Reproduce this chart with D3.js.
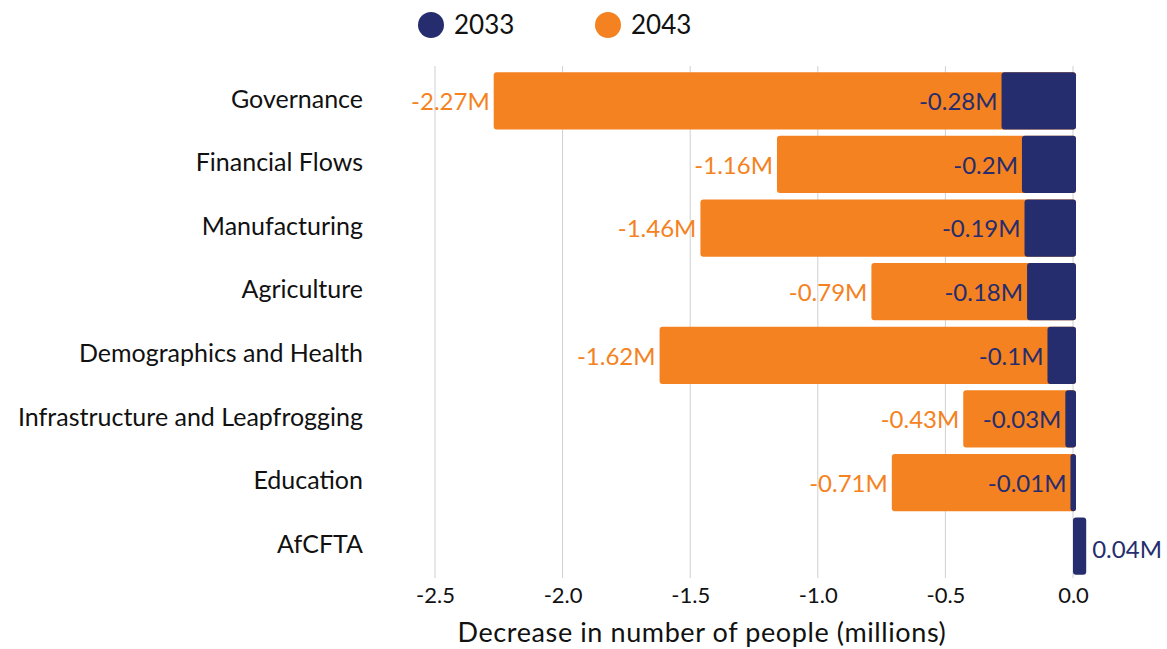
<!DOCTYPE html>
<html>
<head>
<meta charset="utf-8">
<script src="https://cdn.jsdelivr.net/npm/d3@7"></script>
<style>
  body { margin: 0; background: #fff; }
  svg text { font-family: Lato, "Open Sans", sans-serif; }
</style>
</head>
<body>
<svg id="chart" width="1167" height="649"></svg>
<script>
var categories = ["Governance", "Financial Flows", "Manufacturing", "Agriculture",
  "Demographics and Health", "Infrastructure and Leapfrogging", "Education", "AfCFTA"];
var values2033 = [-0.28, -0.2, -0.19, -0.18, -0.1, -0.03, -0.01, 0.04];
var values2043 = [-2.27, -1.16, -1.46, -0.79, -1.62, -0.43, -0.71, null];
var xTicks = [-2.5, -2.0, -1.5, -1.0, -0.5, 0.0];
var seriesNames = ["2033", "2043"];

var navy = "#262d6e";
var orange = "#f58220";

var svg = d3.select("#chart");

var x = d3.scaleLinear().domain([-2.5, 0]).range([435, 1073]);
var y = d3.scaleBand().domain(categories).range([69, 578]).paddingInner(0.1).paddingOuter(0.05);

// gridlines
svg.append("g").selectAll("line").data(xTicks).enter().append("line")
  .attr("x1", d => x(d)).attr("x2", d => x(d))
  .attr("y1", 66).attr("y2", 578)
  .attr("stroke", "#d0d0d0").attr("stroke-width", 1);

// category labels
svg.append("g").selectAll("text").data(categories).enter().append("text")
  .attr("x", 363)
  .attr("y", d => y(d) + y.bandwidth() / 2 - 2)
  .attr("dy", "0.35em")
  .attr("text-anchor", "end")
  .attr("font-size", 25)
  .attr("fill", "#111")
  .text(d => d);

var rows = categories.map(function (c, i) {
  return { cat: c, v33: values2033[i], v43: values2043[i] };
});

// 2043 bars
svg.append("g").selectAll("rect").data(rows.filter(d => d.v43 != null)).enter().append("rect")
  .attr("x", d => x(d.v43))
  .attr("y", d => y(d.cat))
  .attr("width", d => x(0) - x(d.v43) + 3)
  .attr("height", y.bandwidth())
  .attr("rx", 3)
  .attr("fill", orange);

// 2033 bars
svg.append("g").selectAll("rect").data(rows).enter().append("rect")
  .attr("x", d => Math.min(x(d.v33), x(0)) )
  .attr("y", d => y(d.cat))
  .attr("width", d => Math.abs(x(d.v33) - x(0)) + 3)
  .attr("height", y.bandwidth())
  .attr("rx", 3)
  .attr("fill", navy);

// 2043 labels
svg.append("g").selectAll("text").data(rows.filter(d => d.v43 != null)).enter().append("text")
  .attr("x", d => x(d.v43) - 4)
  .attr("y", d => y(d.cat) + y.bandwidth() / 2 + 1)
  .attr("dy", "0.35em")
  .attr("text-anchor", "end")
  .attr("font-size", 24)
  .attr("fill", orange)
  .text(d => d.v43 + "M");

// 2033 labels
svg.append("g").selectAll("text").data(rows).enter().append("text")
  .attr("x", d => d.v33 < 0 ? x(d.v33) - 4 : x(d.v33) + 9)
  .attr("y", d => y(d.cat) + y.bandwidth() / 2 + (d.v33 < 0 ? 1 : 3))
  .attr("dy", "0.35em")
  .attr("text-anchor", d => d.v33 < 0 ? "end" : "start")
  .attr("font-size", 24)
  .attr("fill", navy)
  .text(d => d.v33 + "M");

// x axis
var xAxis = d3.axisBottom(x).tickValues(xTicks)
  .tickFormat(d => d3.format(".1f")(d).replace("\u2212", "-"))
  .tickSize(0).tickPadding(7);
var gx = svg.append("g").attr("transform", "translate(0,580)").call(xAxis);
gx.select(".domain").remove();
gx.selectAll("text").attr("font-size", 22).attr("fill", "#111")
  .style("font-family", "Lato, 'Open Sans', sans-serif");

svg.append("text")
  .attr("x", 702).attr("y", 642)
  .attr("text-anchor", "middle")
  .attr("font-size", 27)
  .attr("letter-spacing", "0.6px")
  .attr("fill", "#111")
  .text("Decrease in number of people (millions)");

// legend
var legend = svg.append("g").selectAll("g").data(seriesNames).enter().append("g")
  .attr("transform", (d, i) => "translate(" + (431 + i * 177) + ",25)");
legend.append("circle").attr("r", 13).attr("fill", (d, i) => i === 0 ? navy : orange);
legend.append("text").attr("x", 23).attr("dy", "0.35em")
  .attr("font-size", 26).attr("fill", "#111").text(d => d);
</script>
</body>
</html>
